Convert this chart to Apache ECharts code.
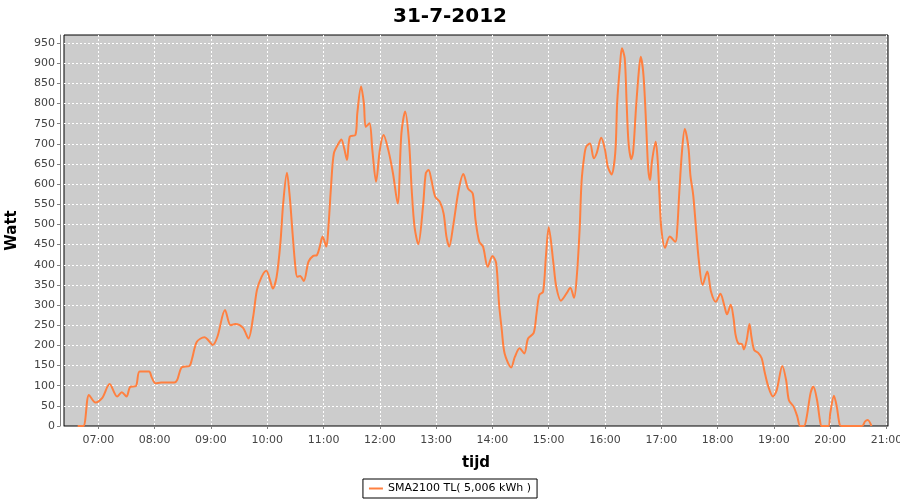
<!DOCTYPE html>
<html>
<head>
<meta charset="utf-8">
<script src="https://cdn.jsdelivr.net/npm/echarts@6/dist/echarts.min.js"></script>
<style>
html,body{margin:0;padding:0;background:#fff;}
#chart{width:900px;height:500px;}
</style>
</head>
<body>
<div id="chart"></div>
<script>
// time in minutes since midnight
var minutes = [398,404,410,417,424,432,440,445,450,454,460,464,474,477,481,487,501,504,509,517,520,525,533,536,542,547,555,561,566,574,580,585,589,594,599,603,606,610,614,617,621,624,627,630,632,635,639,644,649,653,656,659,663,665,668,671,676,679,682,685,688,694,696,700,703,705,709,712,716,720,724,729,734,739,743,747,751,754,757,761,766,769,772,775,779,784,788,791,794,798,804,809,814,819,822,826,830,835,840,844,847,850,853,860,864,869,874,878,884,887,890,894,897,900,905,908,913,919,923,927,930,933,935,938,940,944,948,951,956,960,963,967,971,973,976,978,981,983,985,988,990,993,996,998,1001,1004,1006,1008,1010,1014,1016,1018,1020,1024,1029,1035,1037,1039,1042,1045,1049,1051,1054,1057,1060,1064,1069,1073,1078,1083,1087,1090,1094,1097,1099,1102,1106,1108,1111,1114,1116,1119,1123,1127,1130,1134,1139,1143,1149,1153,1156,1161,1165,1168,1172,1175,1179,1182,1186,1189,1191,1198,1200,1204,1207,1210,1212,1234,1237,1240,1244];
var watts = [0,0,77,58,69,104,73,84,73,97,99,135,135,120,106,108,108,114,146,149,168,209,220,216,201,222,288,250,253,244,217,271,337,370,385,362,341,370,453,552,628,569,478,395,370,372,360,408,422,424,445,470,445,486,594,676,701,711,689,660,718,722,776,842,800,742,751,685,606,685,722,685,627,552,726,780,709,585,494,451,544,627,635,610,569,556,527,470,445,494,585,625,589,577,511,457,445,395,422,404,304,238,180,145,172,193,180,217,231,279,325,333,420,493,404,346,311,329,343,318,374,490,606,672,693,701,664,676,715,685,643,624,680,804,895,937,912,804,705,662,680,788,879,916,870,738,639,610,656,705,664,573,490,442,470,457,490,573,680,737,689,622,573,490,410,350,383,333,308,328,300,277,301,267,228,205,203,190,213,253,222,188,182,168,135,98,73,89,149,114,64,48,23,0,0,23,81,98,64,15,0,0,31,75,48,4,0,0,11,15,0];
var xTicks = [420,480,540,600,660,720,780,840,900,960,1020,1080,1140,1200,1260];
var yTicks = [0,50,100,150,200,250,300,350,400,450,500,550,600,650,700,750,800,850,900,950];
var titleText = '31-7-2012';
var seriesName = 'SMA2100 TL( 5,006 kWh )';

function pad(n){return (n<10?'0':'')+n;}
function fmt(m){return pad(Math.floor(m/60))+':'+pad(Math.round(m%60));}

var data = minutes.map(function(m,i){return [m, watts[i]];});
var chart = echarts.init(document.getElementById('chart'), null, {renderer:'canvas'});
chart.setOption({
  animation:false,
  backgroundColor:'#fff',
  title:{text:titleText,left:'center',top:2,textStyle:{fontFamily:'DejaVu Sans',fontWeight:'bold',fontSize:20,color:'#000'}},
  grid:{left:64,right:12,top:35,bottom:74,show:true,backgroundColor:'#cccccc',borderColor:'#000',borderWidth:1,outerBoundsMode:'none',containLabel:false},
  legend:{bottom:2,left:'center',borderColor:'#000',borderWidth:1,borderRadius:0,padding:[4,6,4,6],itemWidth:14,itemHeight:2,
    textStyle:{fontFamily:'DejaVu Sans',fontSize:11,color:'#000'},data:[{name:seriesName,icon:'rect'}]},
  xAxis:{type:'value',min:383.4,max:1261.6,offset:4,name:'tijd',nameLocation:'middle',nameGap:26,
    nameTextStyle:{fontFamily:'DejaVu Sans',fontWeight:'bold',fontSize:15,color:'#000'},
    axisLine:{show:true,lineStyle:{color:'#808080',width:1}},
    axisTick:{show:true,length:3,customValues:xTicks,lineStyle:{color:'#808080'}},
    axisLabel:{customValues:xTicks,formatter:function(v){return fmt(v);},fontFamily:'DejaVu Sans',fontSize:11,color:'#444',margin:5},
    splitLine:{show:true,lineStyle:{color:'#fff',type:[2,2],width:1}}},
  yAxis:{type:'value',min:0,max:970,offset:4,name:'Watt',nameLocation:'middle',nameGap:40,nameRotate:90,
    nameTextStyle:{fontFamily:'DejaVu Sans',fontWeight:'bold',fontSize:15,color:'#000'},
    axisLine:{show:true,lineStyle:{color:'#808080',width:1}},
    axisTick:{show:true,length:3,customValues:yTicks,lineStyle:{color:'#808080'}},
    axisLabel:{customValues:yTicks,fontFamily:'DejaVu Sans',fontSize:11,color:'#444',margin:5},
    splitLine:{show:true,lineStyle:{color:'#fff',type:[2,2],width:1}}},
  series:[{name:seriesName,type:'line',data:data,symbol:'none',smooth:0.3,
    lineStyle:{color:'#ff8040',width:2},itemStyle:{color:'#ff8040'}}]
});
</script>
</body>
</html>
